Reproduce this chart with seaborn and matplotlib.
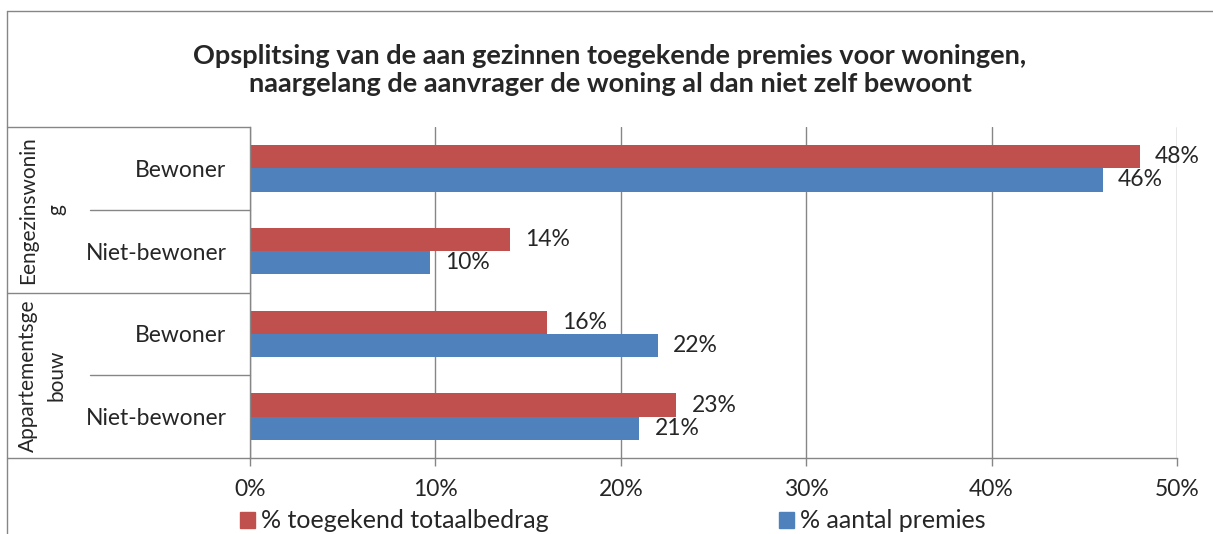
import pandas as pd
import matplotlib.pyplot as plt
import seaborn as sns
from matplotlib.patches import Patch
from matplotlib.lines import Line2D

groups = ['Eengezinswonin\ng', 'Eengezinswonin\ng', 'Appartementsge\nbouw', 'Appartementsge\nbouw']
subcats = ['Bewoner', 'Niet-bewoner', 'Bewoner', 'Niet-bewoner']
totaalbedrag = [48, 14, 16, 23]
aantal_premies = [46, 9.7, 22, 21]
series = ['% toegekend totaalbedrag', '% aantal premies']
colors = ['#C0504D', '#4F81BD']
xticks = [0, 10, 20, 30, 40, 50]
title = ('Opsplitsing van de aan gezinnen toegekende premies voor woningen,\n'
         'naargelang de aanvrager de woning al dan niet zelf bewoont')

keys = [f'{g}|{s}' for g, s in zip(groups, subcats)]
df = pd.DataFrame({
    'key': keys * 2,
    'serie': [series[0]] * 4 + [series[1]] * 4,
    'value': totaalbedrag + aantal_premies,
})

sns.set_style('white')
plt.rcParams['font.family'] = ['Lato', 'DejaVu Sans']
grey = '#868686'
fs = 16.5

fig = plt.figure(figsize=(12.13, 5.34), dpi=100)
ax = fig.add_axes([250/1213, 1 - 458/534, 927/1213, 331/534])
sns.barplot(data=df, y='key', x='value', hue='serie', hue_order=series,
            palette=colors, orient='h', width=0.56, saturation=1,
            errorbar=None, linewidth=0, legend=False, ax=ax)

for cont in ax.containers:
    ax.bar_label(cont, labels=[f'{v:.0f}%' for v in cont.datavalues],
                 padding=11, fontsize=fs)

ax.set_xlim(0, 50)
ax.set_ylim(3.5, -0.5)
ax.set_xticks(xticks)
ax.set_xticklabels([f'{t}%' for t in xticks], fontsize=fs)
ax.set_yticks(range(4))
ax.set_yticklabels(subcats, fontsize=fs)
ax.set_xlabel('')
ax.set_ylabel('')
ax.xaxis.grid(True, color=grey, lw=1)
ax.set_axisbelow(True)
for s in ['top', 'right']:
    ax.spines[s].set_visible(False)
for s in ['left', 'bottom']:
    ax.spines[s].set_color(grey)
    ax.spines[s].set_linewidth(1)
ax.tick_params(axis='x', bottom=True, length=6, color=grey, pad=9, width=1)
ax.tick_params(axis='y', left=False, length=0, pad=17)

# category table on the left
trans = ax.get_yaxis_transform()
x_frame = (7 - 250) / 927
x_sub = (90 - 250) / 927
for y in [-0.5, 1.5, 3.5]:
    ax.plot([x_frame, 0], [y, y], color=grey, lw=1, transform=trans, clip_on=False)
for y in [0.5, 2.5]:
    ax.plot([x_sub, 0], [y, y], color=grey, lw=1, transform=trans, clip_on=False)
x_grp = (42 - 250) / 927
ax.text(x_grp, 0.5, groups[0], transform=trans, rotation=90, ha='center', va='center',
        multialignment='center', fontsize=15, linespacing=1.5)
ax.text(x_grp, 2.5, groups[2], transform=trans, rotation=90, ha='center', va='center',
        multialignment='center', fontsize=15, linespacing=1.5)

# outer frame
fx = 7 / 1213
fy = 1 - 11 / 534
fig.add_artist(Line2D([fx, fx], [0, fy], color=grey, lw=1))
fig.add_artist(Line2D([fx, 1], [fy, fy], color=grey, lw=1))

fig.text(610/1213, 1 - 70/534, title, ha='center', va='center',
         fontsize=19.5, fontweight='bold', linespacing=1.2)

handles = [Patch(color=c, label=s) for c, s in zip(colors, series)]
fig.legend(handles=handles, loc='center', bbox_to_anchor=(613/1213, 1 - 521/534), ncol=2,
           frameon=False, columnspacing=9.2, handlelength=0.6, handleheight=0.6,
           handletextpad=0.24, fontsize=18, borderpad=0)

fig.savefig('out.png', dpi=100)
